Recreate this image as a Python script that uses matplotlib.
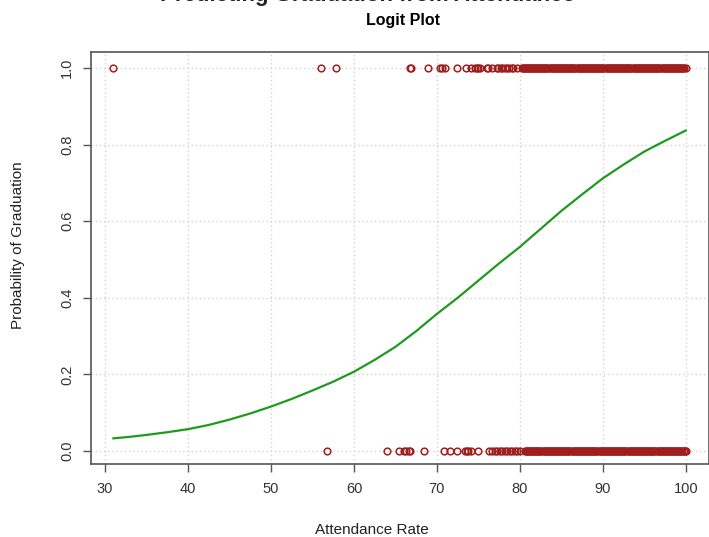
import matplotlib.pyplot as plt

plt.rcParams['font.family'] = ['Liberation Sans', 'DejaVu Sans']

# attendance rate of students who graduated (y = 1)
grad_yes = [31.0, 56.0, 57.8, 66.8, 66.9, 68.9, 70.4, 70.6, 71.0, 72.4,
            73.5, 74.1, 74.6, 74.8, 75.0, 75.2, 76.0, 76.1, 76.6, 77.2,
            77.4, 77.7, 77.9, 78.2, 78.4, 78.7, 79.0, 79.2, 79.6,
            80.2, 80.45, 80.7, 80.95, 81.2, 81.45, 81.7, 81.95, 82.2, 82.45,
            82.7, 82.95, 83.2, 83.45, 83.7, 83.95, 84.2, 84.45, 84.7, 84.95,
            85.2, 85.45, 85.7, 85.95, 86.2, 86.45, 86.7, 86.95, 87.2, 87.45,
            87.7, 87.95, 88.2, 88.45, 88.7, 88.95, 89.2, 89.45, 89.7, 89.95,
            90.2, 90.45, 90.7, 90.95, 91.2, 91.45, 91.7, 91.95, 92.2, 92.45,
            92.7, 92.95, 93.2, 93.45, 93.7, 93.95, 94.2, 94.45, 94.7, 94.95,
            95.2, 95.45, 95.7, 95.95, 96.2, 96.45, 96.7, 96.95, 97.2, 97.45,
            97.7, 97.95, 98.2, 98.45, 98.7, 98.95, 99.2, 99.45, 99.7, 100.0,
            80.33, 80.58, 80.83, 81.08, 81.33, 81.58, 81.83, 82.08, 82.33,
            82.58, 82.83, 83.08, 83.33, 83.58, 83.83, 84.08, 84.33, 84.58,
            84.83, 85.08, 85.33, 85.58, 85.83, 86.08, 86.33, 86.58, 86.83,
            87.08, 87.33, 87.58, 87.83, 88.08, 88.33, 88.58, 88.83, 89.08,
            89.33, 89.58, 89.83, 90.08, 90.33, 90.58, 90.83, 91.08, 91.33,
            91.58, 91.83, 92.08, 92.33, 92.58, 92.83, 93.08, 93.33, 93.58,
            93.83, 94.08, 94.33, 94.58, 94.83, 95.08, 95.33, 95.58, 95.83,
            96.08, 96.33, 96.58, 96.83, 97.08, 97.33, 97.58, 97.83, 98.08,
            98.33, 98.58, 98.83, 99.08, 99.33, 99.58, 99.83]

# attendance rate of students who did not graduate (y = 0)
grad_no = [56.7, 64.0, 65.4, 66.0, 66.3, 66.6, 66.8, 68.4, 70.8, 71.6,
           72.4, 73.4, 73.6, 73.8, 74.1, 74.9, 76.3, 76.7, 77.0, 77.3,
           77.6, 77.9, 78.2, 78.5, 78.8, 79.1, 79.4, 79.7, 80.0,
           80.6, 80.85, 81.1, 81.35, 81.6, 81.85, 82.1, 82.35, 82.6, 82.85,
           83.1, 83.35, 83.6, 83.85, 84.1, 84.35, 84.6, 84.85, 85.1, 85.35,
           85.6, 85.85, 86.1, 86.35, 86.6, 86.85, 87.1, 87.35, 87.6, 87.85,
           88.1, 88.35, 88.6, 88.85, 89.1, 89.35, 89.6, 89.85, 90.1, 90.35,
           90.6, 90.85, 91.1, 91.35, 91.6, 91.85, 92.1, 92.35, 92.6, 92.85,
           93.1, 93.35, 93.6, 93.85, 94.1, 94.35, 94.6, 94.85, 95.1, 95.35,
           95.6, 95.85, 96.1, 96.35, 96.6, 96.85, 97.1, 97.35, 97.6, 97.85,
           98.1, 98.35, 98.6, 98.85, 99.1, 99.35, 99.6, 99.8, 100.0,
           80.73, 80.98, 81.23, 81.48, 81.73, 81.98, 82.23, 82.48, 82.73,
           82.98, 83.23, 83.48, 83.73, 83.98, 84.23, 84.48, 84.73, 84.98,
           85.23, 85.48, 85.73, 85.98, 86.23, 86.48, 86.73, 86.98, 87.23,
           87.48, 87.73, 87.98, 88.23, 88.48, 88.73, 88.98, 89.23, 89.48,
           89.73, 89.98, 90.23, 90.48, 90.73, 90.98, 91.23, 91.48, 91.73,
           91.98, 92.23, 92.48, 92.73, 92.98, 93.23, 93.48, 93.73, 93.98,
           94.23, 94.48, 94.73, 94.98, 95.23, 95.48, 95.73, 95.98, 96.23,
           96.48, 96.73, 96.98, 97.23, 97.48, 97.73, 97.98, 98.23, 98.48,
           98.73, 98.98, 99.23, 99.48, 99.73, 99.9]

# fitted logit curve
curve_x = [31, 33, 35, 37.5, 40, 42.5, 45, 47.5, 50, 52.5, 55, 57.5, 60,
           62.5, 65, 67.5, 70, 72.5, 75, 77.5, 80, 82.5, 85, 87.5, 90,
           92.5, 95, 97.5, 100]
curve_p = [0.033, 0.037, 0.042, 0.049, 0.057, 0.068, 0.082, 0.098, 0.116,
           0.136, 0.158, 0.181, 0.207, 0.238, 0.272, 0.313, 0.358, 0.400,
           0.445, 0.490, 0.533, 0.580, 0.627, 0.670, 0.712, 0.748, 0.782,
           0.810, 0.837]

x_ticks = [30, 40, 50, 60, 70, 80, 90, 100]
y_ticks = [0.0, 0.2, 0.4, 0.6, 0.8, 1.0]

W, H = 709, 537
fig = plt.figure(figsize=(W / 100, H / 100), dpi=100)
# axes box in pixels: left 91, right 709, top 52, bottom 464
ax = fig.add_axes([91 / W, 1 - 464 / H, (709 - 91) / W, (464 - 52) / H])

ax.set_xlim(28.3, 102.8)
ax.set_ylim(-0.034, 1.042)

ax.grid(True, color='#d3d3d3', linestyle=(0, (1, 2)), linewidth=1)
ax.set_axisbelow(True)

red = '#9e1e1e'
ax.plot(grad_yes, [1] * len(grad_yes), 'o', mfc='none', mec=red, ms=4.8, mew=1.1)
ax.plot(grad_no, [0] * len(grad_no), 'o', mfc='none', mec=red, ms=4.8, mew=1.1)
ax.plot(curve_x, curve_p, color='#1f9a1f', lw=1.6)

ax.set_xticks(x_ticks)
ax.set_xticklabels([str(v) for v in x_ticks])
ax.set_yticks(y_ticks)
ax.set_yticklabels(['%.1f' % v for v in y_ticks], rotation=90, va='center')
ax.tick_params(direction='out', length=6, width=1, color='#555555',
               labelcolor='#333333', labelsize=10.5, pad=7)
ax.tick_params(axis='y', pad=6)
for s in ax.spines.values():
    s.set_color('#555555')
    s.set_linewidth(1.2)

fig.text(372 / W, 1 - 530 / H, 'Attendance Rate', ha='center', va='center',
         fontsize=11, color='#222222')
fig.text(18 / W, 1 - 245 / H, 'Probability of Graduation', ha='center',
         va='center', rotation=90, fontsize=11, color='#222222')
fig.text(403 / W, 1 - 20 / H, 'Logit Plot', ha='center', va='center',
         fontsize=11.5, fontweight='bold')
# main title, mostly cut off at the top edge of the image (as in the source)
fig.text(367 / W, 1 - 1 / H, 'Predicting Graduation from Attendance',
         ha='center', va='baseline', fontsize=16, fontweight='bold',
         color='#222222')

fig.savefig('out.png', dpi=100)
